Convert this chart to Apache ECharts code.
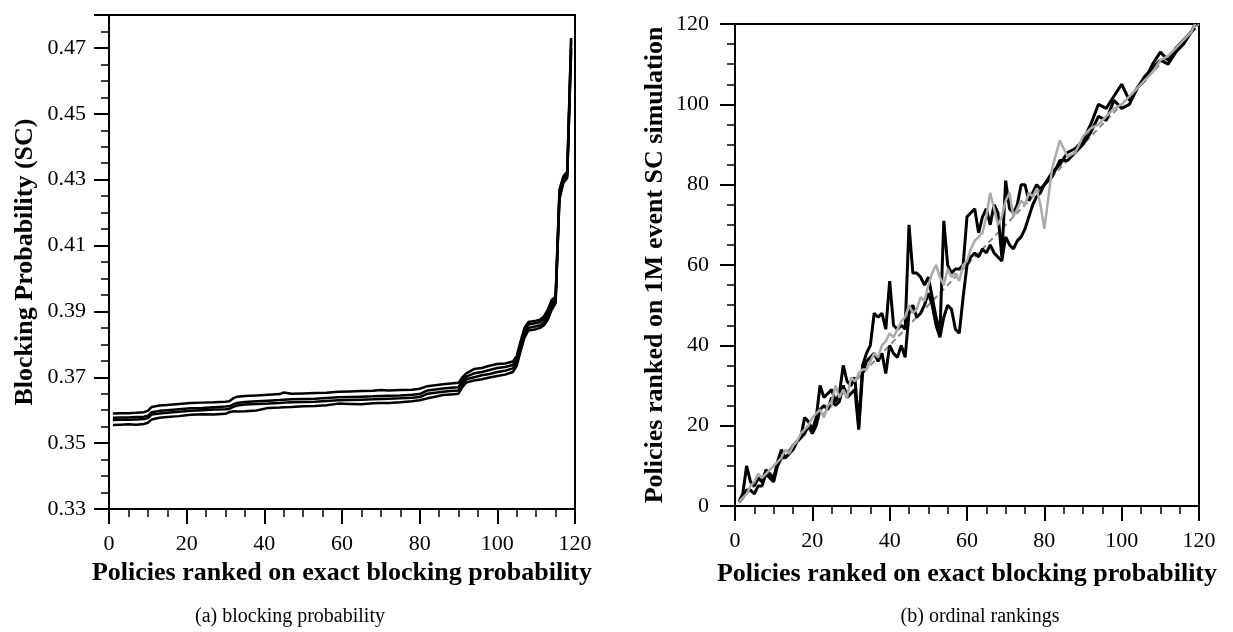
<!DOCTYPE html>
<html>
<head>
<meta charset="utf-8">
<title>blocking probability / ordinal rankings</title>
<script src="https://cdn.jsdelivr.net/npm/echarts@6/dist/echarts.min.js"></script>
<style>
  html, body { margin: 0; padding: 0; background: #fff; }
  #chart { width: 1233px; height: 632px; }
</style>
</head>
<body>
<div id="chart"></div>
<script>
// (a) blocking probability: policies ranked on exact blocking probability
var rankA = [1, 3, 5, 7, 9, 10, 11, 13, 15, 18, 21, 24, 27, 30, 31, 32, 33, 35, 38, 41, 44, 45, 47, 50, 53, 56, 59, 62, 65, 68, 70, 72, 75, 78, 80,
  82, 84, 86, 88, 90, 91, 92, 94, 96, 98, 100, 102, 104, 105, 106, 107, 108, 110, 111, 112, 113, 114, 115, 116, 117, 118, 119]
var bpTop = [0.3590, 0.3591, 0.3591, 0.3592, 0.3594, 0.3598, 0.3610, 0.3614, 0.3616, 0.3619, 0.3622, 0.3623, 0.3624, 0.3626, 0.3627, 0.3636, 0.3641, 0.3643, 0.3645, 0.3647, 0.3649, 0.3654, 0.3650, 0.3651, 0.3652, 0.3653, 0.3656, 0.3657, 0.3658, 0.3659, 0.3661, 0.3660, 0.3661, 0.3662, 0.3665,
  0.3673, 0.3676, 0.3679, 0.3681, 0.3683, 0.3700, 0.3712, 0.3725, 0.3728, 0.3735, 0.3740, 0.3742, 0.3748, 0.3765, 0.3810, 0.3850, 0.3868, 0.3872, 0.3875, 0.3885, 0.3905, 0.3935, 0.3945, 0.4270, 0.4310, 0.4325, 0.4730]
var bpMid1 = [0.3577, 0.3578, 0.3578, 0.3579, 0.3580, 0.3583, 0.3594, 0.3598, 0.3600, 0.3603, 0.3606, 0.3607, 0.3609, 0.3611, 0.3612, 0.3618, 0.3622, 0.3625, 0.3627, 0.3629, 0.3631, 0.3632, 0.3633, 0.3634, 0.3635, 0.3637, 0.3639, 0.3640, 0.3641, 0.3642, 0.3643, 0.3644, 0.3645, 0.3647, 0.3649,
  0.3660, 0.3663, 0.3666, 0.3668, 0.3670, 0.3690, 0.3702, 0.3712, 0.3716, 0.3722, 0.3728, 0.3731, 0.3737, 0.3755, 0.3800, 0.3840, 0.3860, 0.3865, 0.3868, 0.3876, 0.3895, 0.3925, 0.3938, 0.4260, 0.4305, 0.4318, 0.4720]
var bpMid2 = [0.3570, 0.3571, 0.3571, 0.3572, 0.3573, 0.3576, 0.3587, 0.3590, 0.3592, 0.3595, 0.3598, 0.3600, 0.3602, 0.3603, 0.3604, 0.3610, 0.3614, 0.3617, 0.3619, 0.3620, 0.3622, 0.3623, 0.3624, 0.3625, 0.3626, 0.3628, 0.3630, 0.3631, 0.3632, 0.3633, 0.3634, 0.3635, 0.3636, 0.3638, 0.3640,
  0.3650, 0.3653, 0.3656, 0.3658, 0.3660, 0.3680, 0.3694, 0.3700, 0.3706, 0.3710, 0.3716, 0.3720, 0.3727, 0.3745, 0.3790, 0.3830, 0.3850, 0.3855, 0.3858, 0.3866, 0.3885, 0.3915, 0.3930, 0.4250, 0.4300, 0.4312, 0.4700]
var bpBot = [0.3555, 0.3556, 0.3557, 0.3556, 0.3558, 0.3562, 0.3572, 0.3577, 0.3579, 0.3582, 0.3586, 0.3588, 0.3587, 0.3589, 0.3594, 0.3597, 0.3596, 0.3597, 0.3599, 0.3607, 0.3608, 0.3609, 0.3610, 0.3612, 0.3613, 0.3615, 0.3620, 0.3619, 0.3618, 0.3621, 0.3622, 0.3622, 0.3624, 0.3627, 0.3630,
  0.3636, 0.3641, 0.3646, 0.3648, 0.3650, 0.3670, 0.3684, 0.3690, 0.3694, 0.3699, 0.3704, 0.3708, 0.3716, 0.3735, 0.3780, 0.3820, 0.3842, 0.3846, 0.3850, 0.3858, 0.3875, 0.3905, 0.3925, 0.4240, 0.4290, 0.4305, 0.4690]

// (b) ordinal rankings: rank on 1M event SC simulation vs exact rank
var rankB = [1, 2, 3, 4, 5, 6, 7, 8, 9, 10, 11, 12, 13, 14, 15, 16, 17, 18, 19, 20,
  21, 22, 23, 24, 25, 26, 27, 28, 29, 30, 31, 32, 33, 34, 35, 36, 37, 38, 39, 40,
  41, 42, 43, 44, 45, 46, 47, 48, 49, 50, 51, 52, 53, 54, 55, 56, 57, 58, 59, 60,
  61, 62, 63, 64, 65, 66, 67, 68, 69, 70, 71, 72, 73, 74, 75, 76, 77, 78, 79, 80,
  82, 84, 86, 88, 90, 92, 94, 96, 98, 100, 102, 104, 106, 108, 110, 112, 114, 116, 118, 119]
var simRunA = [1, 3, 10, 6, 5, 7, 6, 9, 8, 7, 11, 14, 12, 13, 15, 16, 17, 22, 21, 19,
  22, 30, 27, 28, 29, 26, 28, 35, 31, 30, 32, 20, 35, 38, 40, 48, 47, 48, 44, 56,
  45, 44, 45, 44, 70, 58, 58, 57, 55, 57, 52, 47, 43, 71, 60, 58, 59, 59, 60, 72,
  73, 74, 68, 72, 74, 70, 75, 73, 62, 81, 74, 73, 75, 80, 80, 76, 78, 80, 79, 80,
  83, 85, 88, 89, 91, 95, 100, 99, 102, 105, 101, 104, 106, 110, 113, 111, 114, 116, 118, 120]
var simRunB = [1, 2, 4, 4, 3, 5, 5, 8, 7, 6, 10, 12, 12, 13, 14, 16, 17, 18, 20, 18,
  20, 24, 25, 24, 27, 25, 26, 30, 27, 28, 29, 19, 33, 36, 37, 38, 36, 38, 33, 40,
  38, 37, 40, 37, 48, 50, 47, 48, 50, 53, 50, 45, 42, 47, 50, 49, 44, 43, 52, 60,
  62, 63, 62, 64, 63, 65, 63, 62, 61, 67, 65, 64, 66, 67, 69, 72, 75, 77, 78, 80,
  82, 86, 86, 88, 90, 93, 97, 96, 101, 99, 100, 104, 107, 109, 111, 110, 113, 115, 118, 119]
var simRunC = [1, 2, 3, 5, 6, 8, 7, 8, 9, 10, 11, 12, 14, 13, 15, 16, 18, 19, 20, 22,
  23, 24, 22, 25, 26, 30, 27, 29, 27, 32, 31, 33, 34, 34, 36, 38, 37, 40, 41, 43,
  42, 44, 46, 47, 50, 48, 49, 52, 51, 55, 58, 60, 57, 55, 59, 57, 58, 56, 60, 61,
  64, 66, 67, 68, 72, 78, 74, 70, 72, 76, 78, 72, 74, 76, 75, 78, 77, 79, 75, 69,
  84, 91, 87, 88, 92, 94, 95, 97, 99, 100, 102, 104, 106, 108, 111, 112, 114, 116, 118, 120]
// the y = x reference line, end points
var diagX = [1, 120]
var diagY = [1, 120]

function pairs(xs, ys) {
  return xs.map(function(x, i) { return [x, ys[i]] })
}

var font = 'Liberation Serif'

function axisCommon() {
  return {
    axisLine: { show: true, onZero: false, lineStyle: { color: '#000', width: 2 } },
    axisTick: { show: true, length: 15, lineStyle: { color: '#000', width: 2 } },
    minorTick: { show: true, splitNumber: 4, length: 8, lineStyle: { color: '#000', width: 1.5 } },
    splitLine: { show: false },
    minorSplitLine: { show: false },
    axisLabel: { color: '#000', fontFamily: font, fontSize: 22, margin: 24 },
    nameTextStyle: { color: '#000', fontFamily: font, fontSize: 26, fontWeight: 'bold' },
    nameLocation: 'middle'
  }
}

function withOpts(base, extra) {
  var o = Object.assign({}, base, extra)
  if (extra.axisLabel) o.axisLabel = Object.assign({}, base.axisLabel, extra.axisLabel)
  return o
}

var chart = echarts.init(document.getElementById('chart'))

var blackLine = { color: '#000', width: 2.5 }

chart.setOption({
  animation: false,
  backgroundColor: '#fff',
  grid: [
    { left: 109, top: 15, width: 466, height: 494, show: true, borderColor: '#000', borderWidth: 2, backgroundColor: 'transparent' },
    { left: 735, top: 24, width: 464, height: 482, show: true, borderColor: '#000', borderWidth: 2, backgroundColor: 'transparent' }
  ],
  xAxis: [
    withOpts(axisCommon(), {
      type: 'value', gridIndex: 0, min: 0, max: 120, interval: 20,
      name: 'Policies ranked on exact blocking probability', nameGap: 50
    }),
    withOpts(axisCommon(), {
      type: 'value', gridIndex: 1, min: 0, max: 120, interval: 20,
      name: 'Policies ranked on exact blocking probability', nameGap: 55
    })
  ],
  yAxis: [
    withOpts(axisCommon(), {
      type: 'value', gridIndex: 0, min: 0.33, max: 0.48, interval: 0.02,
      name: 'Blocking Probability (SC)', nameGap: 71,
      axisLabel: {
        margin: 23,
        formatter: function(v) {
          if (Math.abs(v - 0.48) < 1e-6) return ''
          return v.toFixed(2)
        }
      }
    }),
    withOpts(axisCommon(), {
      type: 'value', gridIndex: 1, min: 0, max: 120, interval: 20,
      name: 'Policies ranked on 1M event SC simulation', nameGap: 67,
      axisLabel: { margin: 26 }
    })
  ],
  graphic: [
    { type: 'text', x: 290, y: 617, style: { text: '(a) blocking probability', fill: '#000', font: '20px "Liberation Serif"', textAlign: 'center', textVerticalAlign: 'middle' } },
    { type: 'text', x: 980, y: 617, style: { text: '(b) ordinal rankings', fill: '#000', font: '20px "Liberation Serif"', textAlign: 'center', textVerticalAlign: 'middle' } }
  ],
  series: [
    { type: 'line', xAxisIndex: 0, yAxisIndex: 0, symbol: 'none', data: pairs(rankA, bpTop), lineStyle: blackLine },
    { type: 'line', xAxisIndex: 0, yAxisIndex: 0, symbol: 'none', data: pairs(rankA, bpMid1), lineStyle: blackLine },
    { type: 'line', xAxisIndex: 0, yAxisIndex: 0, symbol: 'none', data: pairs(rankA, bpMid2), lineStyle: blackLine },
    { type: 'line', xAxisIndex: 0, yAxisIndex: 0, symbol: 'none', data: pairs(rankA, bpBot), lineStyle: blackLine },

    { type: 'line', xAxisIndex: 1, yAxisIndex: 1, symbol: 'none', data: pairs(diagX, diagY), lineStyle: { color: '#888', width: 2, type: [6, 4] }, z: 1 },
    { type: 'line', xAxisIndex: 1, yAxisIndex: 1, symbol: 'none', data: pairs(rankB, simRunB), lineStyle: { color: '#000', width: 3 } },
    { type: 'line', xAxisIndex: 1, yAxisIndex: 1, symbol: 'none', data: pairs(rankB, simRunA), lineStyle: { color: '#000', width: 3 } },
    { type: 'line', xAxisIndex: 1, yAxisIndex: 1, symbol: 'none', data: pairs(rankB, simRunC), lineStyle: { color: '#aaa', width: 2.5 } }
  ]
})
</script>
</body>
</html>
